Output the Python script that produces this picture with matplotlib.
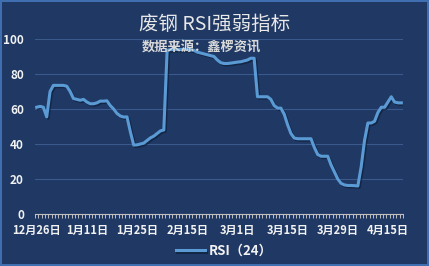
import matplotlib
matplotlib.use("Agg")
import matplotlib.pyplot as plt
import matplotlib.patheffects as pe

plt.rcParams['font.family'] = ['Noto Sans CJK SC', 'DejaVu Sans']

# RSI(24) daily values
rsi = [61, 61.5, 61, 55.5, 70, 73.5, 73.5, 73.5, 73.5, 73,
       70, 66, 65.5, 65, 65.5, 64, 63, 63, 63.5, 64.5,
       64.5, 64.7, 62, 60, 57.5, 56, 55.4, 55.5, 47, 39.4,
       39.5, 40, 40.5, 42, 43.5, 44.5, 46, 47.5, 48, 93.5,
       94, 94, 94, 94, 94, 94, 93.8, 93.5, 92.5, 92,
       91.5, 91, 90.5, 90, 88, 86.5, 86, 86, 86.2, 86.5,
       86.8, 87, 87.5, 88, 89, 89, 67, 67, 67, 67,
       65.5, 62, 60.5, 60.5, 57, 51, 46, 43.4, 43, 43,
       43, 43, 43, 38, 34, 33, 33, 33, 28, 24,
       20, 17.5, 16.6, 16.3, 16.3, 16.2, 16, 27, 42, 52,
       52, 53, 58, 61, 61, 64, 67, 64, 63.5, 63.5]
date_labels = ['12月26日', '1月11日', '1月25日', '2月15日',
               '3月1日', '3月15日', '3月29日', '4月15日']
label_step = 15

bg = '#1F3864'
line_c = '#5B9BD5'
txt_c = '#F2F2F2'

fig = plt.figure(figsize=(4.29, 2.66), dpi=100, facecolor=bg,
                 edgecolor='#3F6FB0', linewidth=1.5)
ax = fig.add_axes([35 / 429, 52 / 266, 368 / 429, 175 / 266])
ax.set_facecolor(bg)

x = list(range(len(rsi)))
ax.plot(x, rsi, color=line_c, linewidth=2.2, label='RSI（24）',
        solid_joinstyle='round',
        path_effects=[pe.SimpleLineShadow(offset=(1, -1), shadow_color='#0B1A33', alpha=0.6),
                      pe.Normal()])

ax.set_xlim(-0.5, len(rsi) - 0.5)
ax.set_ylim(0, 100)
ax.set_yticks([0, 20, 40, 60, 80, 100])
ax.grid(axis='y', color='#3B5A8C', linewidth=0.8)
ax.set_axisbelow(True)

ax.set_xticks(range(0, len(rsi), label_step))
ax.set_xticklabels(date_labels)
ax.set_xticks([i - 0.5 for i in range(len(rsi) + 1)], minor=True)
ax.tick_params(axis='x', which='major', length=0, pad=7, colors=txt_c, labelsize=8)
ax.tick_params(axis='x', which='minor', length=3, color='#BFBFBF', width=0.7)
ax.tick_params(axis='y', length=0, pad=8, colors=txt_c, labelsize=8.5)
for lab in ax.get_xticklabels() + ax.get_yticklabels():
    lab.set_fontweight('bold')

for s in ['top', 'right', 'left']:
    ax.spines[s].set_visible(False)
ax.spines['bottom'].set_color('#BFBFBF')
ax.spines['bottom'].set_linewidth(0.8)

fig.text(0.5, 1 - 24 / 266, '废钢 RSI强弱指标', ha='center', va='center',
         color='#E8E8E8', fontsize=14)
fig.text(0.469, 1 - 47 / 266, '数据来源：鑫椤资讯', ha='center', va='center',
         color='#D9D9D9', fontsize=9.5, fontweight='bold')

leg = fig.legend(loc='center', bbox_to_anchor=(0.522, 1 - 251 / 266), frameon=False,
                 handlelength=2.2, handletextpad=0.3,
                 prop={'size': 9.5, 'weight': 'bold'})
for t in leg.get_texts():
    t.set_color(txt_c)

fig.savefig('out.png', dpi=100, facecolor=bg, edgecolor='#3F6FB0')
